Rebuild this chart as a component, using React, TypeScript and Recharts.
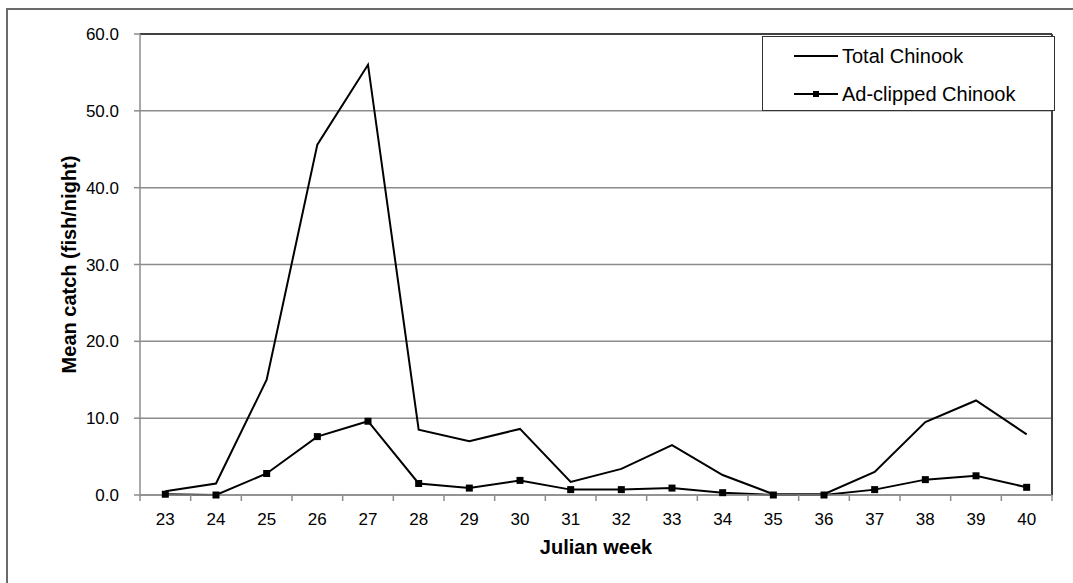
import React from "react";
import {
  LineChart,
  Line,
  XAxis,
  YAxis,
  CartesianGrid,
  ReferenceLine,
  Legend,
  Label,
} from "recharts";

const weeks = [23, 24, 25, 26, 27, 28, 29, 30, 31, 32, 33, 34, 35, 36, 37, 38, 39, 40];
const totalChinook = [0.5, 1.5, 15.0, 45.6, 56.0, 8.5, 7.0, 8.6, 1.7, 3.4, 6.5, 2.6, 0.1, 0.1, 3.0, 9.5, 12.3, 7.9];
const adClipped = [0.1, 0.0, 2.8, 7.6, 9.6, 1.5, 0.9, 1.9, 0.7, 0.7, 0.9, 0.3, 0.0, 0.0, 0.7, 2.0, 2.5, 1.0];
const yTicks = [0, 10, 20, 30, 40, 50, 60];
const seriesNames = ["Total Chinook", "Ad-clipped Chinook"];
const xTitle = "Julian week";
const yTitle = "Mean catch (fish/night)";

const data = weeks.map((w, i) => ({ week: w, total: totalChinook[i], clipped: adClipped[i] }));
const boundaryTicks = [...weeks.map((w) => w - 0.5), weeks[weeks.length - 1] + 0.5];
const allXTicks = [...weeks, ...boundaryTicks].sort((a, b) => a - b);
const xDomain = [boundaryTicks[0], boundaryTicks[boundaryTicks.length - 1]];

const FONT = '"Liberation Sans", Arial, sans-serif';
const GRID = "#8c8c8c";

const XTick = (props: any) => {
  const { x, y, payload } = props;
  const v = payload.value;
  if (Number.isInteger(v)) {
    return (
      <text x={x} y={y + 30} textAnchor="middle" fontFamily={FONT} fontSize={17} fill="#000">
        {v}
      </text>
    );
  }
  return <line x1={x} x2={x} y1={y} y2={y + 6} stroke={GRID} strokeWidth={1.5} />;
};

const SquareDot = (props: any) => {
  const { cx, cy } = props;
  if (cx == null || cy == null) return null;
  return <rect x={cx - 3.5} y={cy - 3.5} width={7} height={7} fill="#000" />;
};

const LegendContent = () => (
  <div
    style={{
      width: 293,
      height: 75,
      boxSizing: "border-box",
      border: "1.5px solid #333",
      background: "#fff",
      fontFamily: FONT,
      fontSize: 20,
      color: "#000",
      position: "relative",
    }}
  >
    <svg width={50} height={75} style={{ position: "absolute", left: 28, top: 0 }}>
      <line x1={3} x2={47} y1={19} y2={19} stroke="#000" strokeWidth={2} />
      <line x1={3} x2={47} y1={57} y2={57} stroke="#000" strokeWidth={2} />
      <rect x={22} y={54} width={6} height={6} fill="#000" />
    </svg>
    <div style={{ position: "absolute", left: 79, top: 7, lineHeight: "24px", whiteSpace: "nowrap" }}>
      {seriesNames[0]}
    </div>
    <div style={{ position: "absolute", left: 79, top: 45, lineHeight: "24px", whiteSpace: "nowrap" }}>
      {seriesNames[1]}
    </div>
  </div>
);

const YTitle = (props: any) => {
  const vb = props.viewBox || {};
  const cy = vb.y + vb.height / 2;
  const cx = 69;
  return (
    <text
      x={cx}
      y={cy}
      transform={`rotate(-90, ${cx}, ${cy})`}
      textAnchor="middle"
      dominantBaseline="central"
      fontFamily={FONT}
      fontSize={20}
      fontWeight="bold"
      fill="#000"
    >
      {yTitle}
    </text>
  );
};

export default function App() {
  return (
    <div
      style={{
        position: "absolute",
        left: 0,
        top: 0,
        width: 1073,
        height: 583,
        background: "#fff",
        overflow: "hidden",
      }}
    >
      <div
        style={{
          position: "absolute",
          left: 6,
          top: 8,
          width: 1200,
          height: 700,
          borderLeft: "2px solid #6a6a6a",
          borderTop: "2px solid #6a6a6a",
        }}
      />
      <div style={{ position: "absolute", left: 0, top: 0 }}>
        <LineChart
          width={1073}
          height={583}
          data={data}
          margin={{ top: 34, right: 21, bottom: 58, left: 10 }}
        >
          <CartesianGrid horizontal vertical={false} stroke={GRID} strokeWidth={1.5} />
          <XAxis
            dataKey="week"
            type="number"
            domain={xDomain}
            ticks={allXTicks}
            interval={0}
            allowDataOverflow
            height={30}
            tickSize={0}
            tickMargin={0}
            tickLine={false}
            axisLine={{ stroke: GRID, strokeWidth: 1.5 }}
            tick={<XTick />}
          >
            <Label
              value={xTitle}
              position="bottom"
              offset={15}
              style={{ fontFamily: FONT, fontSize: 20, fontWeight: "bold", fill: "#000" }}
            />
          </XAxis>
          <YAxis
            type="number"
            domain={[0, 60]}
            ticks={yTicks}
            width={130}
            tickSize={6}
            tickMargin={15}
            interval={0}
            tickFormatter={(v: number) => v.toFixed(1)}
            tick={{ fontFamily: FONT, fontSize: 17, fill: "#000" }}
            tickLine={{ stroke: GRID, strokeWidth: 1.5 }}
            axisLine={{ stroke: GRID, strokeWidth: 1.5 }}
          >
            <Label content={<YTitle />} />
          </YAxis>
          <ReferenceLine y={60} stroke="#404040" strokeWidth={2} ifOverflow="extendDomain" />
          <ReferenceLine x={xDomain[1]} stroke="#404040" strokeWidth={2} />
          <Legend
            layout="vertical"
            align="center"
            verticalAlign="middle"
            content={<LegendContent />}
            wrapperStyle={{ position: "absolute", left: 762, top: 36, width: 293, height: 75 }}
          />
          <Line
            type="linear"
            dataKey="total"
            name={seriesNames[0]}
            stroke="#000"
            strokeWidth={2}
            dot={false}
            activeDot={false}
            isAnimationActive={false}
          />
          <Line
            type="linear"
            dataKey="clipped"
            name={seriesNames[1]}
            stroke="#000"
            strokeWidth={2}
            dot={<SquareDot />}
            activeDot={false}
            isAnimationActive={false}
          />
        </LineChart>
      </div>
    </div>
  );
}
